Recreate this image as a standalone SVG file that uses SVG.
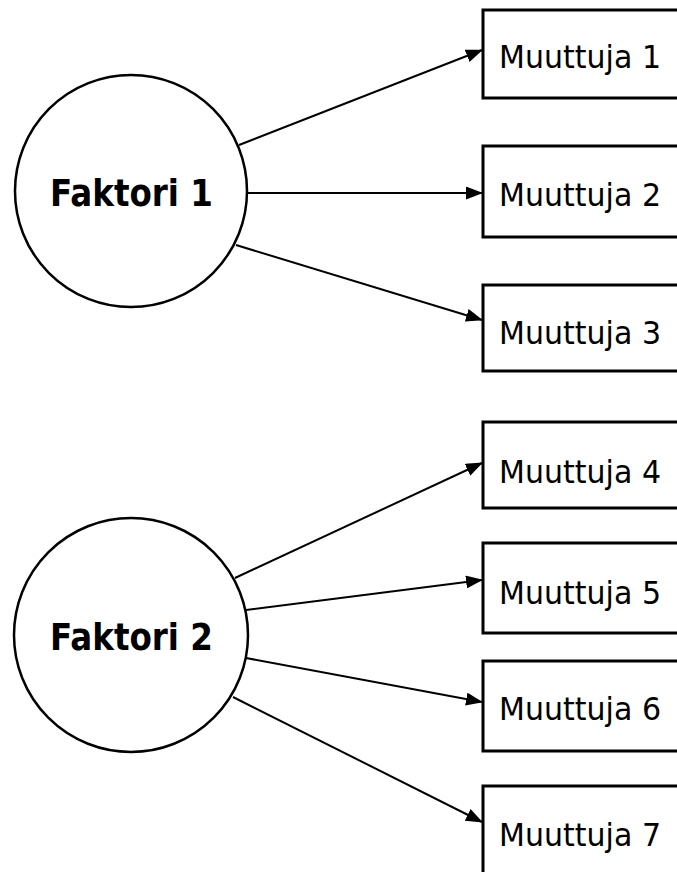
<svg xmlns="http://www.w3.org/2000/svg" width="677" height="872" viewBox="0 0 677 872">
<style>
.factor circle{fill:#fff;stroke:#000;stroke-width:2.5}
.factor text{font-family:"DejaVu Sans",Verdana,sans-serif;font-weight:bold;font-size:38px;fill:#000}
.var rect{fill:#fff;stroke:#000;stroke-width:3}
.var text{font-family:"DejaVu Sans",Verdana,sans-serif;font-size:32px;fill:#000}
#connectors line{stroke:#000;stroke-width:2;marker-end:url(#arrow)}
</style>
<defs>
<marker id="arrow" markerUnits="userSpaceOnUse" markerWidth="17" markerHeight="13" refX="16" refY="6.5" orient="auto">
<path d="M0,0 L17,6.5 L0,13 Z" fill="#000"/>
</marker>
</defs>
<rect width="677" height="872" fill="#fff"/>
<g id="connectors">
<line x1="239" y1="145" x2="482" y2="50"/>
<line x1="247" y1="193" x2="482" y2="193"/>
<line x1="236" y1="245" x2="482" y2="320"/>
<line x1="235" y1="578" x2="482" y2="463"/>
<line x1="246" y1="610" x2="482" y2="580"/>
<line x1="246" y1="658" x2="482" y2="702"/>
<line x1="233" y1="697" x2="482" y2="822"/>
</g>
<g id="faktori1" class="factor"><circle cx="131" cy="191" r="116"/><text x="50" y="206" textLength="163" lengthAdjust="spacingAndGlyphs">Faktori 1</text></g>
<g id="faktori2" class="factor"><circle cx="131" cy="635" r="117"/><text x="50" y="650" textLength="163" lengthAdjust="spacingAndGlyphs">Faktori 2</text></g>
<g id="muuttuja1" class="var"><rect x="483" y="10" width="220" height="88"/><text x="499" y="68" textLength="162" lengthAdjust="spacingAndGlyphs">Muuttuja 1</text></g>
<g id="muuttuja2" class="var"><rect x="483" y="146" width="220" height="91"/><text x="499" y="206" textLength="162" lengthAdjust="spacingAndGlyphs">Muuttuja 2</text></g>
<g id="muuttuja3" class="var"><rect x="483" y="285" width="220" height="86"/><text x="499" y="344" textLength="162" lengthAdjust="spacingAndGlyphs">Muuttuja 3</text></g>
<g id="muuttuja4" class="var"><rect x="483" y="422" width="220" height="86"/><text x="499" y="483" textLength="162" lengthAdjust="spacingAndGlyphs">Muuttuja 4</text></g>
<g id="muuttuja5" class="var"><rect x="483" y="543" width="220" height="90"/><text x="499" y="604" textLength="162" lengthAdjust="spacingAndGlyphs">Muuttuja 5</text></g>
<g id="muuttuja6" class="var"><rect x="483" y="661" width="220" height="90"/><text x="499" y="720" textLength="162" lengthAdjust="spacingAndGlyphs">Muuttuja 6</text></g>
<g id="muuttuja7" class="var"><rect x="483" y="786" width="220" height="120"/><text x="499" y="846" textLength="162" lengthAdjust="spacingAndGlyphs">Muuttuja 7</text></g>
</svg>
